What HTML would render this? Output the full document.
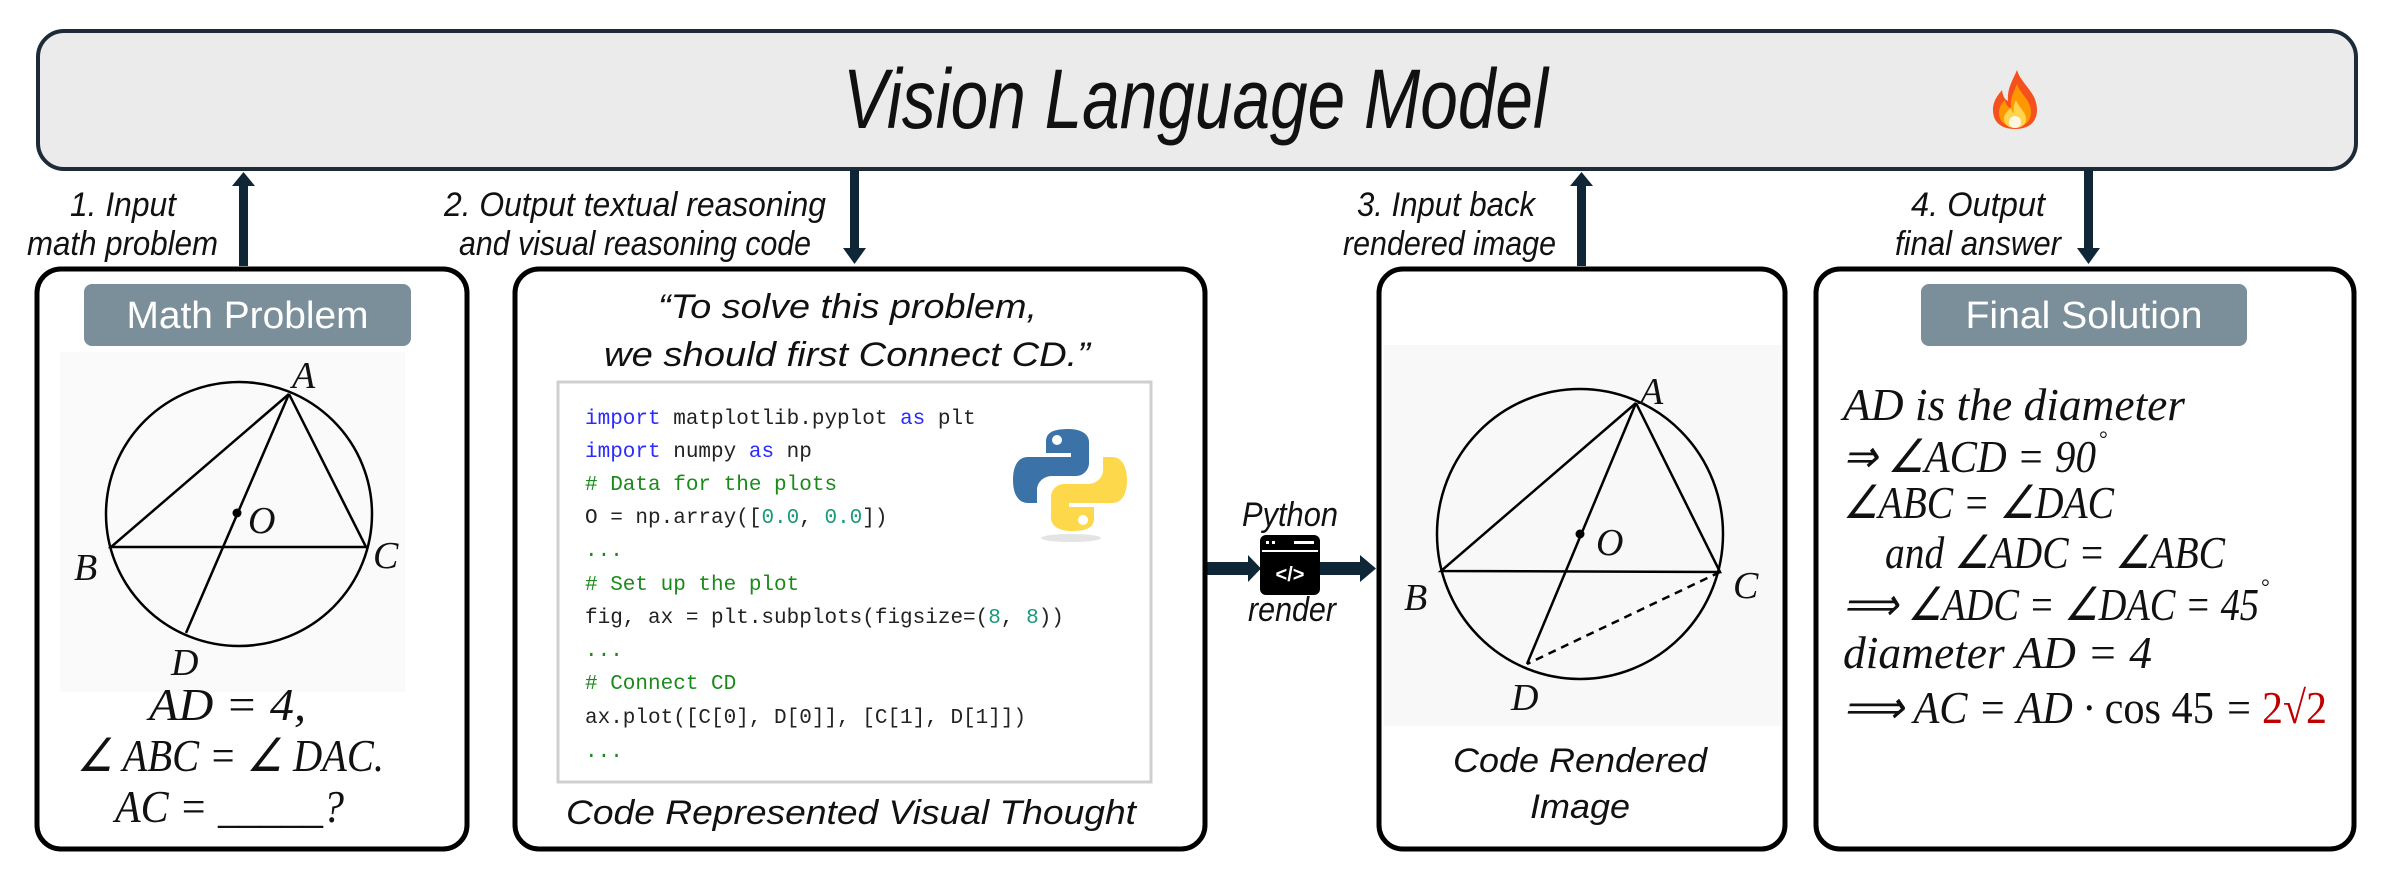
<!DOCTYPE html>
<html><head><meta charset="utf-8"><style>
html,body{margin:0;padding:0;background:#fff;}
svg{display:block;}
.lab{font-family:"Liberation Sans",sans-serif;font-style:italic;font-size:34px;fill:#111;}
.m{font-family:"Liberation Serif",serif;font-style:italic;font-size:46px;fill:#111;}
.g{font-family:"Liberation Serif",serif;font-style:italic;font-size:38px;fill:#111;}
.code{font-family:"Liberation Mono",monospace;font-size:21px;fill:#222;}
.kw{fill:#2b2bff;}
.cm{fill:#1a8a1a;}
.nm{fill:#1a9a7a;}
</style></head><body>
<svg width="2403" height="884" viewBox="0 0 2403 884" xmlns="http://www.w3.org/2000/svg">
<rect x="38" y="31" width="2318" height="138" rx="26" fill="#ebebeb" stroke="#1d2b38" stroke-width="4"/>
<text x="843" y="128" font-family="Liberation Sans,sans-serif" font-style="italic" font-size="84" fill="#111" textLength="705" lengthAdjust="spacingAndGlyphs">Vision Language Model</text>
<g transform="translate(1993,70)">
<path d="M24 0 C28 14 44 22 44 40 C44 52 36 59 22 59 C8 59 0 52 0 40 C0 30 6 24 9 20 C10 28 13 30 15 31 C14 18 20 10 24 0Z" fill="#f4511e"/>
<path d="M24 14 C27 24 38 30 38 42 C38 52 31 57 22 57 C12 57 6 51 6 43 C6 36 10 32 12 30 C13 36 16 38 18 38 C17 28 21 22 24 14Z" fill="#ff9800"/>
<path d="M23 30 C26 38 33 42 33 49 C33 55 28 58 22 58 C15 58 11 54 11 49 C11 43 16 40 18 38 C19 42 20 43 21 43 C20 38 21 34 23 30Z" fill="#ffd54f"/>
<ellipse cx="22" cy="52" rx="6" ry="6" fill="#fff8e1"/>
</g>
<g fill="#0f2636">
<rect x="239" y="184" width="9" height="82"/><polygon points="232,186 243.5,172 255,186"/>
<rect x="850" y="170" width="9" height="80"/><polygon points="843,248 854.5,264 866,248"/>
<rect x="1577" y="184" width="9" height="82"/><polygon points="1570,186 1581.5,172 1593,186"/>
<rect x="2084" y="170" width="9" height="80"/><polygon points="2077,248 2088.5,264 2100,248"/>
<rect x="1207" y="562" width="46" height="13"/><polygon points="1248,555 1261,568.5 1248,582"/>
<rect x="1320" y="562" width="42" height="13"/><polygon points="1360,555 1376,568.5 1360,582"/>
</g>
<text class="lab" x="70" y="216" textLength="106" lengthAdjust="spacingAndGlyphs">1. Input</text>
<text class="lab" x="27" y="255" textLength="191" lengthAdjust="spacingAndGlyphs">math problem</text>
<text class="lab" x="444" y="216" textLength="382" lengthAdjust="spacingAndGlyphs">2. Output textual reasoning</text>
<text class="lab" x="459" y="255" textLength="352" lengthAdjust="spacingAndGlyphs">and visual reasoning code</text>
<text class="lab" x="1357" y="216" textLength="178" lengthAdjust="spacingAndGlyphs">3. Input back</text>
<text class="lab" x="1343" y="255" textLength="213" lengthAdjust="spacingAndGlyphs">rendered image</text>
<text class="lab" x="1911" y="216" textLength="134" lengthAdjust="spacingAndGlyphs">4. Output</text>
<text class="lab" x="1895" y="255" textLength="166" lengthAdjust="spacingAndGlyphs">final answer</text>
<g fill="#fff" stroke="#000" stroke-width="5">
<rect x="37" y="269" width="430" height="580" rx="24"/>
<rect x="515" y="269" width="690" height="580" rx="24"/>
<rect x="1379" y="269" width="406" height="580" rx="24"/>
<rect x="1816" y="269" width="538" height="580" rx="24"/>
</g>
<rect x="84" y="284" width="327" height="62" rx="8" fill="#7b8f9b"/>
<text x="247.5" y="328" text-anchor="middle" font-family="Liberation Sans,sans-serif" font-size="38" fill="#fff" textLength="242" lengthAdjust="spacingAndGlyphs">Math Problem</text>
<rect x="1921" y="284" width="326" height="62" rx="8" fill="#7b8f9b"/>
<text x="2084" y="328" text-anchor="middle" font-family="Liberation Sans,sans-serif" font-size="38" fill="#fff" textLength="237" lengthAdjust="spacingAndGlyphs">Final Solution</text>
<rect x="60" y="352" width="345" height="340" fill="#fafafa"/>
<g stroke="#000" stroke-width="2.5" fill="none">
<ellipse cx="239" cy="514" rx="133" ry="132"/>
<polyline points="289,394 111,547 366,547 289,394"/>
<line x1="289" y1="394" x2="186" y2="633"/>
</g>
<circle cx="237" cy="513" r="4.5" fill="#000"/>
<text class="g" x="292" y="388">A</text>
<text class="g" x="74" y="580">B</text>
<text class="g" x="373" y="568">C</text>
<text class="g" x="171" y="675">D</text>
<text class="g" x="248" y="533">O</text>
<text class="m" x="149" y="720" textLength="157" lengthAdjust="spacingAndGlyphs">AD  =  4,</text>
<text class="m" x="77" y="771" textLength="307" lengthAdjust="spacingAndGlyphs">∠ ABC  =  ∠ DAC.</text>
<text class="m" x="115" y="822" textLength="229" lengthAdjust="spacingAndGlyphs">AC  =  _____?</text>
<text class="lab" x="658" y="318" font-size="44" textLength="379" lengthAdjust="spacingAndGlyphs">“To solve this problem,</text>
<text class="lab" x="604" y="366" font-size="44" textLength="486" lengthAdjust="spacingAndGlyphs">we should first Connect CD.”</text>
<rect x="558" y="382" width="593" height="400" fill="#fff" stroke="#cfcfcf" stroke-width="3"/>
<text class="code" x="585" y="424"><tspan class="kw">import</tspan> matplotlib.pyplot <tspan class="kw">as</tspan> plt</text>
<text class="code" x="585" y="457"><tspan class="kw">import</tspan> numpy <tspan class="kw">as</tspan> np</text>
<text class="code cm" x="585" y="490"># Data for the plots</text>
<text class="code" x="585" y="523">O = np.array([<tspan class="nm">0.0</tspan>, <tspan class="nm">0.0</tspan>])</text>
<text class="code cm" x="585" y="556">...</text>
<text class="code cm" x="585" y="590"># Set up the plot</text>
<text class="code" x="585" y="623">fig, ax = plt.subplots(figsize=(<tspan class="nm">8</tspan>, <tspan class="nm">8</tspan>))</text>
<text class="code cm" x="585" y="656">...</text>
<text class="code cm" x="585" y="689"># Connect CD</text>
<text class="code" x="585" y="723">ax.plot([C[0], D[0]], [C[1], D[1]])</text>
<text class="code cm" x="585" y="757">...</text>
<g transform="translate(1013,428)">
<ellipse cx="58" cy="110" rx="30" ry="4" fill="#e4e4e4"/>
<path d="M55 1 C35 1 33 8 33 14 L33 25 L58 25 L58 29 L15 29 C5 29 0 38 0 52 C0 67 6 75 15 75 L24 75 L24 62 C24 54 31 48 39 48 L63 48 C70 48 76 42 76 35 L76 14 C76 6 68 1 55 1Z" fill="#3b73a8"/>
<path d="M59 103 C79 103 81 96 81 90 L81 79 L56 79 L56 75 L99 75 C109 75 114 66 114 52 C114 37 108 29 99 29 L90 29 L90 42 C90 50 83 56 75 56 L51 56 C44 56 38 62 38 69 L38 90 C38 98 46 103 59 103Z" fill="#fcd84a"/>
<circle cx="44" cy="12" r="5" fill="#fff"/>
<circle cx="70" cy="92" r="5" fill="#fff"/>
</g>
<text class="lab" x="566" y="824" font-size="44" textLength="570" lengthAdjust="spacingAndGlyphs">Code Represented Visual Thought</text>
<text class="lab" x="1242" y="526" font-size="32" textLength="96" lengthAdjust="spacingAndGlyphs">Python</text>
<rect x="1260" y="535" width="60" height="60" rx="6" fill="#000"/>
<line x1="1262" y1="551" x2="1318" y2="551" stroke="#fff" stroke-width="2"/>
<rect x="1266" y="541" width="3" height="3" fill="#fff"/><rect x="1272" y="541" width="3" height="3" fill="#fff"/><rect x="1294" y="541" width="20" height="3" fill="#fff"/>
<text x="1290" y="581" text-anchor="middle" font-family="Liberation Sans,sans-serif" font-weight="bold" font-size="20" fill="#fff">&lt;/&gt;</text>
<text class="lab" x="1248" y="621" font-size="32" textLength="88" lengthAdjust="spacingAndGlyphs">render</text>
<rect x="1384" y="345" width="397" height="381" fill="#f8f8f8"/>
<g stroke="#000" stroke-width="2.5" fill="none">
<ellipse cx="1580" cy="534" rx="143" ry="145"/>
<polyline points="1636,403 1441,571 1720,572 1636,403"/>
<line x1="1636" y1="403" x2="1527" y2="664"/>
<line x1="1720" y1="572" x2="1527" y2="664" stroke-dasharray="8,6"/>
</g>
<circle cx="1580" cy="534" r="4.5" fill="#000"/>
<text class="g" x="1640" y="404">A</text>
<text class="g" x="1404" y="610">B</text>
<text class="g" x="1733" y="598">C</text>
<text class="g" x="1511" y="710">D</text>
<text class="g" x="1596" y="555">O</text>
<text class="lab" x="1453" y="772" font-size="44" textLength="254" lengthAdjust="spacingAndGlyphs">Code Rendered</text>
<text class="lab" x="1530" y="818" font-size="44" textLength="100" lengthAdjust="spacingAndGlyphs">Image</text>
<text class="m" x="1843" y="420" textLength="342" lengthAdjust="spacingAndGlyphs">AD is the diameter</text>
<text class="m" x="1843" y="472" textLength="253" lengthAdjust="spacingAndGlyphs">⇒ ∠ACD  =  90</text>
<text x="2099" y="446" font-family="Liberation Serif,serif" font-size="22" fill="#111">°</text>
<text class="m" x="1843" y="518" textLength="271" lengthAdjust="spacingAndGlyphs">∠ABC  = ∠DAC</text>
<text class="m" x="1885" y="568" textLength="340" lengthAdjust="spacingAndGlyphs">and ∠ADC = ∠ABC</text>
<text class="m" x="1843" y="620" textLength="416" lengthAdjust="spacingAndGlyphs">⟹ ∠ADC = ∠DAC = 45</text>
<text x="2261" y="594" font-family="Liberation Serif,serif" font-size="22" fill="#111">°</text>
<text class="m" x="1843" y="668" textLength="309" lengthAdjust="spacingAndGlyphs">diameter AD = 4</text>
<text class="m" x="1843" y="723" textLength="410" lengthAdjust="spacingAndGlyphs">⟹ AC = AD · <tspan font-style="normal">cos 45</tspan> = </text>
<text x="2262" y="723" font-family="Liberation Serif,serif" font-size="46" fill="#c00000" textLength="65" lengthAdjust="spacingAndGlyphs">2√2</text>
</svg>
</body></html>
